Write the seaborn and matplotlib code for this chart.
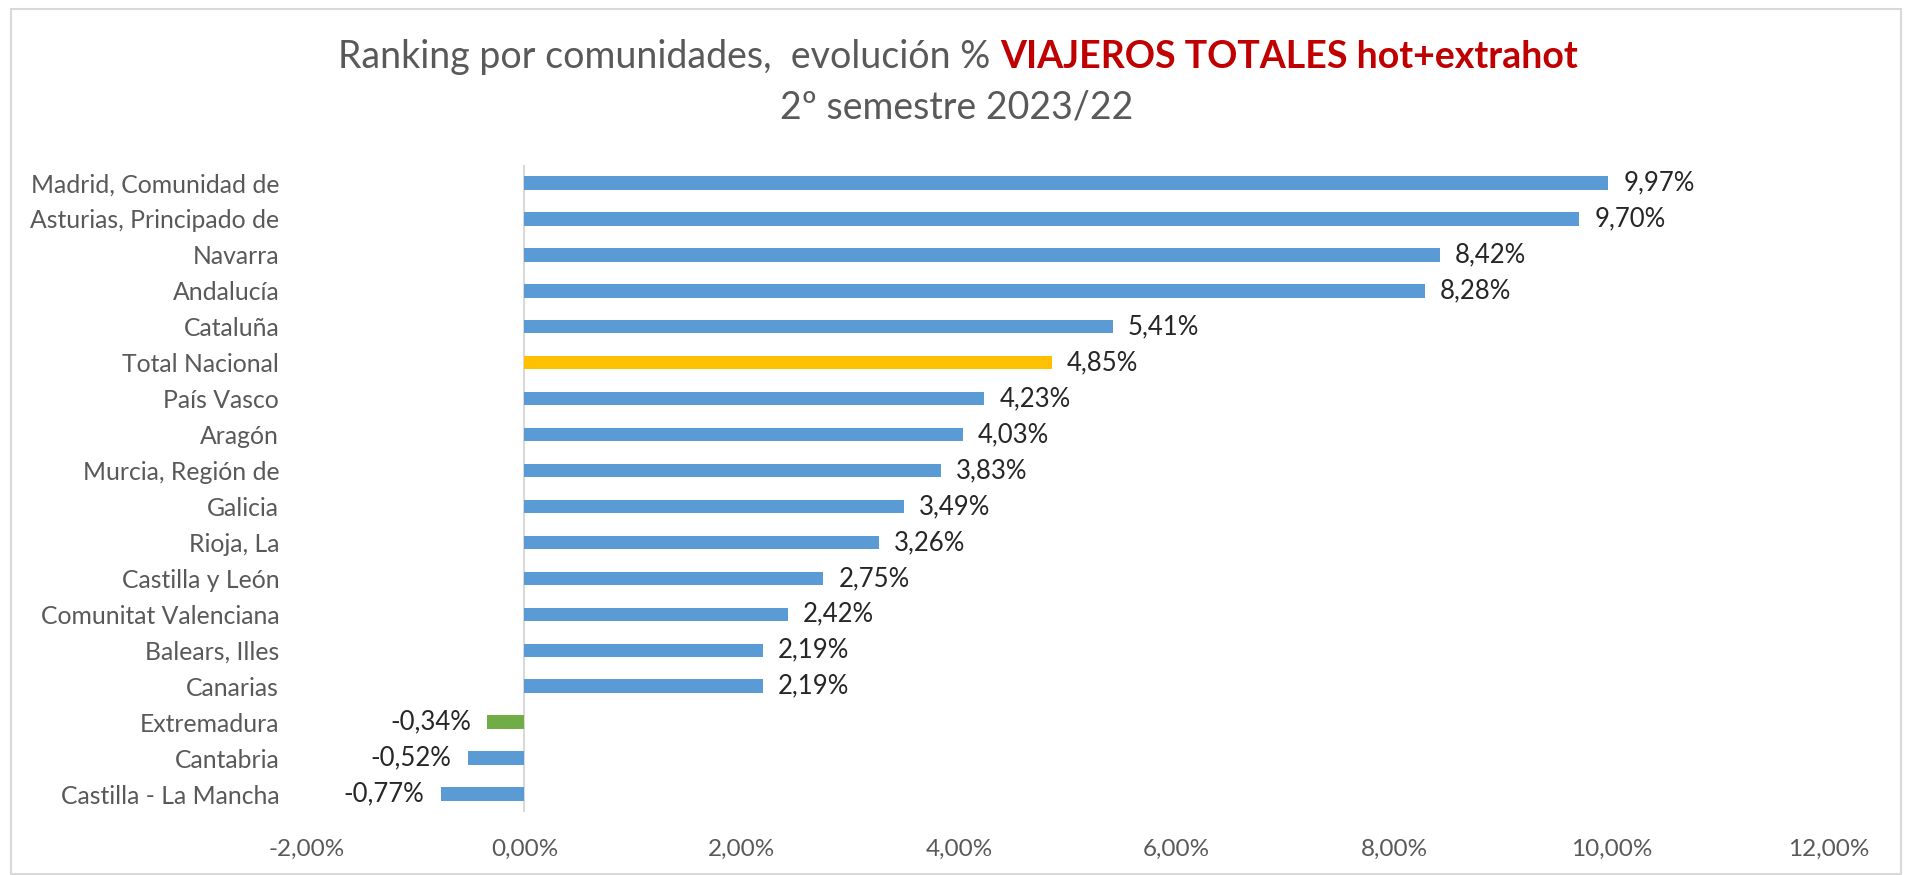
import matplotlib
matplotlib.use("Agg")
import matplotlib.pyplot as plt
import seaborn as sns

# datos: evolución % viajeros totales, 2º semestre 2023/22
comunidades = ["Madrid, Comunidad de", "Asturias, Principado de", "Navarra", "Andalucía",
               "Cataluña", "Total Nacional", "País Vasco", "Aragón", "Murcia, Región de",
               "Galicia", "Rioja, La", "Castilla y León", "Comunitat Valenciana",
               "Balears, Illes", "Canarias", "Extremadura", "Cantabria",
               "Castilla - La Mancha"]
evolucion = [9.97, 9.70, 8.42, 8.28, 5.41, 4.85, 4.23, 4.03, 3.83, 3.49, 3.26, 2.75,
             2.42, 2.19, 2.19, -0.34, -0.52, -0.77]
ticks_x = [-2, 0, 2, 4, 6, 8, 10, 12]

AZUL = "#5B9BD5"
colores = []
for c in comunidades:
    if c == "Total Nacional":
        colores.append("#FFC000")
    elif c == "Extremadura":
        colores.append("#70AD47")
    else:
        colores.append(AZUL)

sns.set_style("white")
plt.rcParams["font.family"] = ["Lato", "DejaVu Sans"]

fig = plt.figure(figsize=(19.05, 8.75), dpi=100)
ax = fig.add_axes([307 / 1905, 1 - 812 / 875, (1829 - 307) / 1905, (812 - 165) / 875])

sns.barplot(x=evolucion, y=comunidades, hue=comunidades, palette=colores,
            orient="h", width=0.375, legend=False, ax=ax, linewidth=0,
            saturation=1)

ax.set_xlim(-2, 12)
ax.set_xticks(ticks_x)
ax.set_xticklabels([f"{t:.2f}%".replace(".", ",") for t in ticks_x])
ax.set_ylabel("")
ax.set_xlabel("")
for s in ax.spines.values():
    s.set_visible(False)
ax.axvline(0, color="#D9D9D9", lw=1.5, zorder=0)
ax.tick_params(axis="both", length=0, labelcolor="#595959")
ax.tick_params(axis="x", pad=19, labelsize=17.5)
ax.tick_params(axis="y", pad=20, labelsize=17.8)

# etiquetas de datos
for i, v in enumerate(evolucion):
    txt = f"{v:.2f}%".replace(".", ",")
    if v >= 0:
        ax.annotate(txt, (v, i), xytext=(11, 0), textcoords="offset points",
                    ha="left", va="center", fontsize=18.5, color="#262626")
    else:
        ax.annotate(txt, (v, i), xytext=(-12, 0), textcoords="offset points",
                    ha="right", va="center", fontsize=18.5, color="#262626")

# título en dos colores
t1 = fig.text(0, 1 - 57 / 875, "Ranking por comunidades,  evolución % ", fontsize=27,
              color="#595959", ha="left", va="center")
t2 = fig.text(0, 1 - 57 / 875, "VIAJEROS TOTALES hot+extrahot", fontsize=27,
              color="#C00000", fontweight="bold", ha="left", va="center")
fig.canvas.draw()
r = fig.canvas.get_renderer()
w1 = t1.get_window_extent(r).width
w2 = t2.get_window_extent(r).width
x0 = 958 - (w1 + w2) / 2
t1.set_x(x0 / 1905)
t2.set_x((x0 + w1) / 1905)
fig.text(957 / 1905, 1 - 107 / 875, "2º semestre 2023/22", fontsize=27,
         color="#595959", ha="center", va="center")

# marco del gráfico
fig.patches.append(plt.Rectangle((11 / 1905, 1 / 875), 1890 / 1905, 865 / 875,
                                 transform=fig.transFigure, fill=False,
                                 edgecolor="#D9D9D9", lw=1.5))

fig.savefig("out.png", dpi=100)
